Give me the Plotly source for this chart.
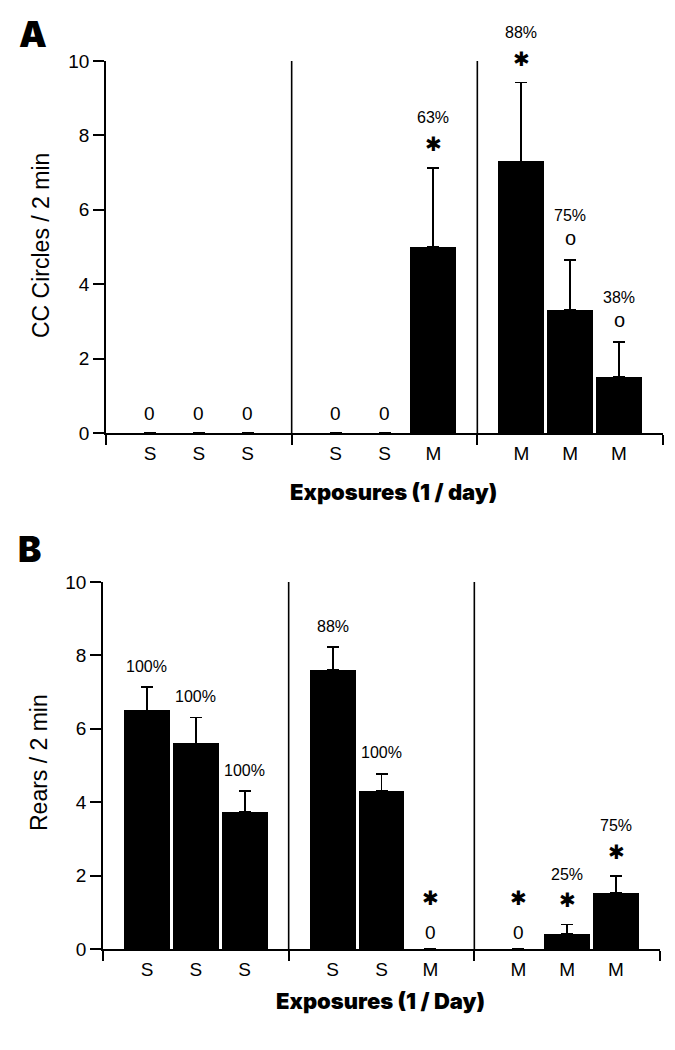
import plotly.graph_objects as go

# ---------------- data ----------------
exposure_labels = ["S", "S", "S", "S", "S", "M", "M", "M", "M"]

cc_mean = [0, 0, 0, 0, 0, 5.0, 7.3, 3.3, 1.5]
cc_sem = [0, 0, 0, 0, 0, 2.13, 2.12, 1.34, 0.94]
cc_pct = ["", "", "", "", "", "63%", "88%", "75%", "38%"]
cc_sig = ["", "", "", "", "", "star", "star", "circle", "circle"]

rears_mean = [6.5, 5.6, 3.73, 7.6, 4.31, 0, 0, 0.41, 1.52]
rears_sem = [0.63, 0.71, 0.57, 0.62, 0.46, 0, 0, 0.26, 0.47]
rears_pct = ["100%", "100%", "100%", "88%", "100%", "", "", "25%", "75%"]
rears_sig = ["", "", "", "", "", "star", "star", "star", "star"]

y_ticks = [0, 2, 4, 6, 8, 10]

# ---------------- layout helpers ----------------
GROUP_W = 3.8
N_GROUPS = 3
positions = [g * GROUP_W + 0.9 + i for g in range(N_GROUPS) for i in range(3)]
separators = [GROUP_W * g for g in range(1, N_GROUPS)]
group_edges = [GROUP_W * g for g in range(N_GROUPS + 1)]
XR = [0, GROUP_W * N_GROUPS]

W, H = 675, 1050
OFF = 8  # page body margin
FONT = "Liberation Sans, Arial, sans-serif"
HEAVY = "Inter, Liberation Sans, Arial, sans-serif"
LW = 1.8


def px_x(p):
    return (p - OFF) / W


def px_y(p):
    return 1 - (p - OFF) / H


panels = [
    dict(mean=cc_mean, sem=cc_sem, pct=cc_pct, sig=cc_sig,
         xd=[px_x(106), px_x(663)], yd=[px_y(433), px_y(61)],
         xa="x", ya="y", xo="x3",
         ytitle="CC Circles / 2 min", ytitle_pos=(41, 246),
         xtitle="Exposures (1 / day)", xtitle_pos=(393, 492),
         letter="A", letter_pos=(33, 34), zero_shift=20),
    dict(mean=rears_mean, sem=rears_sem, pct=rears_pct, sig=rears_sig,
         xd=[px_x(103), px_x(660)], yd=[px_y(949), px_y(582)],
         xa="x2", ya="y2", xo="x4",
         ytitle="Rears / 2 min", ytitle_pos=(39, 763),
         xtitle="Exposures (1 / Day)", xtitle_pos=(380, 1001),
         letter="B", letter_pos=(29, 549), zero_shift=17),
]

fig = go.Figure()
annotations = []
shapes = []

for k, p in enumerate(panels):
    err = [e if e > 0 else None for e in p["sem"]]
    fig.add_trace(go.Bar(
        x=positions, y=p["mean"], width=0.94,
        marker=dict(color="black", line=dict(width=0)),
        error_y=dict(type="data", symmetric=False, array=err,
                     arrayminus=[None] * len(err),
                     color="black", thickness=1.8, width=6),
        xaxis=p["xa"], yaxis=p["ya"], showlegend=False, hoverinfo="skip",
    ))
    # invisible trace so the overlaid category-label axis is drawn
    fig.add_trace(go.Scatter(
        x=positions, y=[None] * len(positions), mode="markers",
        xaxis=p["xo"], yaxis=p["ya"], showlegend=False, hoverinfo="skip",
    ))
    for s in separators:
        shapes.append(dict(type="line", xref=p["xa"], yref=p["ya"],
                           x0=s, x1=s, y0=0, y1=10,
                           line=dict(color="black", width=1.6)))
    for x, m, e, pc, sg in zip(positions, p["mean"], p["sem"], p["pct"], p["sig"]):
        if m == 0:
            annotations.append(dict(x=x, y=0, xref=p["xa"], yref=p["ya"], text="0",
                                    showarrow=False, yshift=p["zero_shift"],
                                    font=dict(size=19, family=FONT, color="black")))
            if sg == "star":
                annotations.append(dict(x=x, y=0, xref=p["xa"], yref=p["ya"], text="✱",
                                        showarrow=False, yshift=p["zero_shift"] + 34,
                                        font=dict(size=20, family="DejaVu Sans", color="black")))
            continue
        top = m + e
        pct_shift = 21
        if sg == "star":
            annotations.append(dict(x=x, y=top, xref=p["xa"], yref=p["ya"], text="✱",
                                    showarrow=False, yshift=24,
                                    font=dict(size=20, family="DejaVu Sans", color="black")))
            pct_shift = 50
        elif sg == "circle":
            annotations.append(dict(x=x, y=top, xref=p["xa"], yref=p["ya"], text="o",
                                    showarrow=False, yshift=22,
                                    font=dict(size=20, family=FONT, color="black")))
            pct_shift = 45
        if pc:
            annotations.append(dict(x=x, y=top, xref=p["xa"], yref=p["ya"], text=pc,
                                    showarrow=False, yshift=pct_shift,
                                    font=dict(size=16, family=FONT, color="black")))
    annotations.append(dict(x=px_x(p["ytitle_pos"][0]), y=px_y(p["ytitle_pos"][1]),
                            xref="paper", yref="paper", text=p["ytitle"], textangle=-90,
                            showarrow=False, xanchor="center", yanchor="middle",
                            font=dict(size=23, family=FONT, color="black")))
    annotations.append(dict(x=px_x(p["xtitle_pos"][0]), y=px_y(p["xtitle_pos"][1]),
                            xref="paper", yref="paper", text=p["xtitle"],
                            showarrow=False, xanchor="center", yanchor="middle",
                            font=dict(size=22, family=HEAVY, color="black", weight=900)))
    annotations.append(dict(x=px_x(p["letter_pos"][0]), y=px_y(p["letter_pos"][1]),
                            xref="paper", yref="paper", text=p["letter"],
                            showarrow=False, xanchor="center", yanchor="middle",
                            font=dict(size=35, family=HEAVY, color="black", weight=900)))

xaxis_common = dict(range=XR, showgrid=False, zeroline=False, showline=True,
                    linecolor="black", linewidth=LW, tickvals=group_edges,
                    ticks="outside", ticklen=10, tickwidth=LW, tickcolor="black",
                    showticklabels=False, fixedrange=True, automargin=False)
yaxis_common = dict(range=[0, 10], tickvals=y_ticks, showgrid=False, zeroline=False,
                    showline=True, linecolor="black", linewidth=LW, ticks="outside",
                    ticklen=11, tickwidth=LW, tickcolor="black",
                    tickfont=dict(size=19, family=FONT, color="black"),
                    fixedrange=True, automargin=False)
label_axis = dict(range=XR, showgrid=False, zeroline=False, showline=False,
                  tickvals=positions, ticktext=exposure_labels, ticks="outside",
                  ticklen=3, tickcolor="rgba(0,0,0,0)", showticklabels=True,
                  tickfont=dict(size=19, family=FONT, color="black"),
                  fixedrange=True, automargin=False)

fig.update_layout(
    template="none",
    width=W, height=H, margin=dict(l=0, r=0, t=0, b=0, pad=0),
    paper_bgcolor="white", plot_bgcolor="rgba(0,0,0,0)",
    bargap=0, barmode="overlay", showlegend=False,
    xaxis=dict(domain=panels[0]["xd"], anchor="y", **xaxis_common),
    yaxis=dict(domain=panels[0]["yd"], anchor="x", **yaxis_common),
    xaxis2=dict(domain=panels[1]["xd"], anchor="y2", **xaxis_common),
    yaxis2=dict(domain=panels[1]["yd"], anchor="x2", **yaxis_common),
    xaxis3=dict(overlaying="x", anchor="y", side="bottom", **label_axis),
    xaxis4=dict(overlaying="x2", anchor="y2", side="bottom", **label_axis),
    annotations=annotations, shapes=shapes,
)

fig.write_html("out.html")
